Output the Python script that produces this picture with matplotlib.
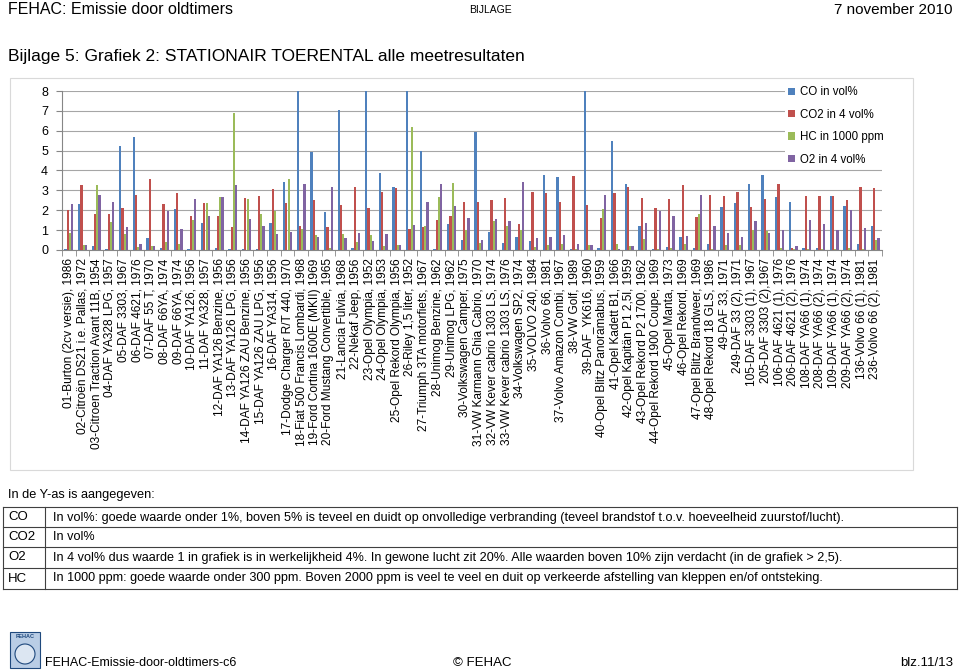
import matplotlib.pyplot as plt
import matplotlib.patches as mpatches
import numpy as np

# car labels (x axis)
labels = [
    "01-Burton (2cv versie), 1986", "02-Citroën DS21 i.e. Pallas, 1972",
    "03-Citroen Traction Avant 11B, 1954", "04-DAF YA328 LPG, 1957",
    "05-DAF 3303, 1967", "06-DAF 4621, 1976", "07-DAF 55 T, 1970",
    "08-DAF 66YA, 1974", "09-DAF 66YA, 1974", "10-DAF YA126, 1956",
    "11-DAF YA328, 1957", "12-DAF YA126 Benzine, 1956", "13-DAF YA126 LPG, 1956",
    "14-DAF YA126 ZAU Benzine, 1956", "15-DAF YA126 ZAU LPG, 1956",
    "16-DAF YA314, 1956", "17-Dodge Charger R/T 440, 1970",
    "18-Fiat 500 Francis Lombardi, 1968", "19-Ford Cortina 1600E (MKII) 1969",
    "20-Ford Mustang Convertible, 1965", "21-Lancia Fulvia, 1968",
    "22-Nekaf Jeep, 1956", "23-Opel Olympia, 1952", "24-Opel Olympia, 1953",
    "25-Opel Rekord Olympia, 1956", "26-Riley 1,5 liter, 1952",
    "27-Triumph 3TA motorfiets, 1967", "28-Unimog Benzine, 1962",
    "29-Unimog LPG, 1962", "30-Volkswagen Camper, 1975",
    "31-VW Karmann Ghia Cabrio, 1970", "32-VW Kever cabrio 1303 LS, 1974",
    "33-VW Kever cabrio 1303 LS, 1976", "34-Volkswagen SP2, 1974",
    "35-VOLVO 240, 1984", "36-Volvo 66, 1981", "37-Volvo Amazon Combi, 1967",
    "38-VW Golf, 1989", "39-DAF_YK616, 1960", "40-Opel Blitz Panoramabus, 1959",
    "41-Opel Kadett B1, 1966", "42-Opel Kapitän P1 2,5l, 1959",
    "43-Opel Rekord P2 1700, 1962", "44-Opel Rekord 1900 Coupe, 1969",
    "45-Opel Manta, 1973", "46-Opel Rekord, 1969", "47-Opel Blitz Brandweer, 1969",
    "48-Opel Rekord 18 GLS, 1986", "49-DAF 33, 1971", "249-DAF 33 (2), 1971",
    "105-DAF 3303 (1), 1967", "205-DAF 3303 (2),1967", "106-DAF 4621 (1), 1976",
    "206-DAF 4621 (2), 1976", "108-DAF YA66 (1), 1974", "208-DAF YA66 (2), 1974",
    "109-DAF YA66 (1), 1974", "209-DAF YA66 (2), 1974", "136-Volvo 66 (1), 1981",
    "236-Volvo 66 (2), 1981",
]

co = [0.05, 2.3, 0.2, 0.07, 5.25, 5.67, 0.59, 0.1, 2.05, 0.03,
      1.38, 0.08, 0.03, 0.03, 0.03, 1.36, 3.43, 8.0, 4.93, 1.9,
      7.04, 0.1, 8.0, 3.87, 3.16, 8.0, 4.98, 0.03, 1.33, 0.49,
      5.94, 0.93, 0.37, 0.66, 0.45, 3.79, 3.69, 0.03, 8.0, 0.1,
      5.5, 3.33, 1.21, 0.03, 0.13, 0.66, 0.1, 0.3, 2.17, 2.34,
      3.33, 3.75, 2.66, 2.4, 0.1, 0.1, 2.7, 2.2, 0.3, 1.2]
co2 = [2.0, 3.27, 1.82, 1.82, 2.09, 2.78, 3.57, 2.3, 2.85, 1.72,
       2.37, 1.72, 1.18, 2.61, 2.71, 3.05, 2.37, 1.2, 2.53, 1.18,
       2.26, 3.18, 2.09, 2.9, 3.13, 1.04, 1.18, 1.5, 1.72, 2.44,
       2.44, 2.51, 2.63, 1.31, 2.93, 2.85, 2.41, 3.72, 2.26, 1.6,
       2.85, 3.15, 2.64, 2.09, 2.59, 3.28, 1.67, 2.78, 2.74, 2.93,
       2.17, 2.56, 3.32, 0.1, 2.7, 2.7, 2.7, 2.5, 3.15, 3.1]
hc = [0.87, 0.24, 3.27, 1.43, 0.8, 0.15, 0.18, 0.39, 0.29, 1.5,
      2.34, 2.68, 6.87, 2.58, 1.8, 1.97, 3.59, 1.08, 0.76, 0.1,
      0.81, 0.4, 0.74, 0.19, 0.27, 6.2, 1.21, 2.66, 3.35, 1.01,
      0.37, 1.46, 1.21, 0.99, 0.13, 0.27, 0.29, 0.05, 0.24, 2.04,
      0.29, 0.19, 0.54, 0.03, 0.08, 0.3, 1.82, 0.05, 0.24, 0.24,
      1.01, 0.98, 0.1, 0.05, 0.05, 0.05, 0.05, 0.1, 0.05, 0.5]
o2 = [2.3, 0.24, 2.76, 2.44, 1.18, 0.3, 0.18, 1.97, 1.04, 2.58,
      1.72, 2.68, 3.28, 1.55, 1.2, 0.79, 0.93, 3.3, 0.66, 3.18,
      0.62, 0.88, 0.47, 0.79, 0.25, 1.28, 2.42, 3.32, 2.19, 1.62,
      0.49, 1.58, 1.46, 3.4, 0.61, 0.66, 0.74, 0.29, 0.24, 2.76,
      0.05, 0.19, 1.35, 1.97, 1.72, 0.71, 2.76, 1.21, 0.86, 0.67,
      1.45, 0.84, 1.0, 0.2, 1.5, 1.3, 1.0, 2.0, 1.1, 0.6]

series = ["CO in vol%", "CO2 in 4 vol%", "HC in 1000 ppm", "O2 in 4 vol%"]
colors = ["#4F81BD", "#C0504D", "#9BBB59", "#8064A2"]

table_rows = [
    ("CO", "In vol%: goede waarde onder 1%, boven 5% is teveel en duidt op onvolledige verbranding (teveel brandstof t.o.v. hoeveelheid zuurstof/lucht)."),
    ("CO2", "In vol%"),
    ("O2", "In 4 vol% dus waarde 1 in grafiek is in werkelijkheid 4%. In gewone lucht zit 20%. Alle waarden boven 10% zijn verdacht (in de grafiek > 2,5)."),
    ("HC", "In 1000 ppm: goede waarde onder 300 ppm. Boven 2000 ppm is veel te veel en duit op verkeerde afstelling van kleppen en/of ontsteking."),
]

plt.rcParams["font.family"] = ["Liberation Sans", "DejaVu Sans"]

W, H = 960, 671
fig = plt.figure(figsize=(W / 100, H / 100), dpi=100)

# page layer in pixel coordinates
bg = fig.add_axes([0, 0, 1, 1])
bg.set_xlim(0, W)
bg.set_ylim(H, 0)
bg.axis("off")

bg.text(8, 10, "FEHAC: Emissie door oldtimers", fontsize=11.5, va="center", ha="left")
bg.text(490, 10, "BIJLAGE", fontsize=7.5, va="center", ha="center")
bg.text(953, 10, "7 november 2010", fontsize=11, va="center", ha="right")
bg.text(8, 57, "Bijlage 5: Grafiek 2: STATIONAIR TOERENTAL alle meetresultaten",
        fontsize=12.5, va="center", ha="left")

# chart frame
bg.add_patch(mpatches.Rectangle((10, 78), 903, 392, fill=False,
                                edgecolor="#D9D9D9", lw=0.8))

bg.text(8, 495, "In de Y-as is aangegeven:", fontsize=9.2, va="center", ha="left")
row_top = [507, 527, 547, 568]
row_bot = 589
for (k, txt), top in zip(table_rows, row_top):
    bg.plot([3, 957], [top, top], color="#404040", lw=0.8)
    bg.text(8, top + 10.5, k, fontsize=9.5, va="center", ha="left")
    bg.text(53, top + 10.5, txt, fontsize=9.1, va="center", ha="left")
bg.plot([3, 957], [row_bot, row_bot], color="#404040", lw=0.8)
for xv in [3, 45, 957]:
    bg.plot([xv, xv], [row_top[0], row_bot], color="#404040", lw=0.8)

# footer
bg.add_patch(mpatches.Rectangle((10, 632), 30, 36, facecolor="#B9CDE5",
                                edgecolor="#1F497D", lw=0.8))
bg.text(25, 637, "FEHAC", fontsize=4, color="#1F497D", ha="center", va="center",
        fontweight="bold")
bg.add_patch(mpatches.Circle((25, 654), 10, facecolor="#DCE6F2",
                             edgecolor="#1F497D", lw=0.8))
bg.text(45, 663, "FEHAC-Emissie-door-oldtimers-c6", fontsize=9, va="center", ha="left")
bg.text(482, 663, "© FEHAC", fontsize=9.5, va="center", ha="center")
bg.text(953, 663, "blz.11/13", fontsize=9.5, va="center", ha="right")

# the bar chart
left, right, top, bottom = 62, 882, 91, 250
ax = fig.add_axes([left / W, 1 - bottom / H, (right - left) / W, (bottom - top) / H])

x = np.arange(len(labels))
bw = 0.17
handles = []
for i, (vals, name, c) in enumerate(zip([co, co2, hc, o2], series, colors)):
    h = ax.bar(x + (i - 1.5) * bw, vals, bw, color=c, label=name, zorder=3)
    handles.append(h)

ax.set_xlim(-0.5, len(labels) - 0.5)
ax.set_ylim(0, 8)
ax.set_yticks(range(0, 9))
ax.yaxis.grid(True, color="#A6A6A6", lw=0.8, zorder=0)
ax.set_axisbelow(True)
for s in ["top", "right"]:
    ax.spines[s].set_visible(False)
for s in ["left", "bottom"]:
    ax.spines[s].set_color("#868686")
ax.tick_params(axis="y", length=4, color="#868686", labelsize=9, pad=6)

ax.set_xticks(x)
ax.set_xticklabels(labels, rotation=90, fontsize=8.6)
ax.set_xticks(np.arange(-0.5, len(labels), 1), minor=True)
ax.tick_params(axis="x", which="major", length=0, pad=6)
ax.tick_params(axis="x", which="minor", length=4, color="#868686")

ax.legend(handles=handles, loc="upper left",
          bbox_to_anchor=(785 / W, 1 - 83 / H), bbox_transform=fig.transFigure,
          frameon=True, framealpha=1, edgecolor="none", fancybox=False,
          fontsize=8.3, handlelength=0.6, handleheight=0.6, handletextpad=0.4,
          labelspacing=0.9, borderpad=0.3, borderaxespad=0)

plt.savefig("out.png", dpi=100)
